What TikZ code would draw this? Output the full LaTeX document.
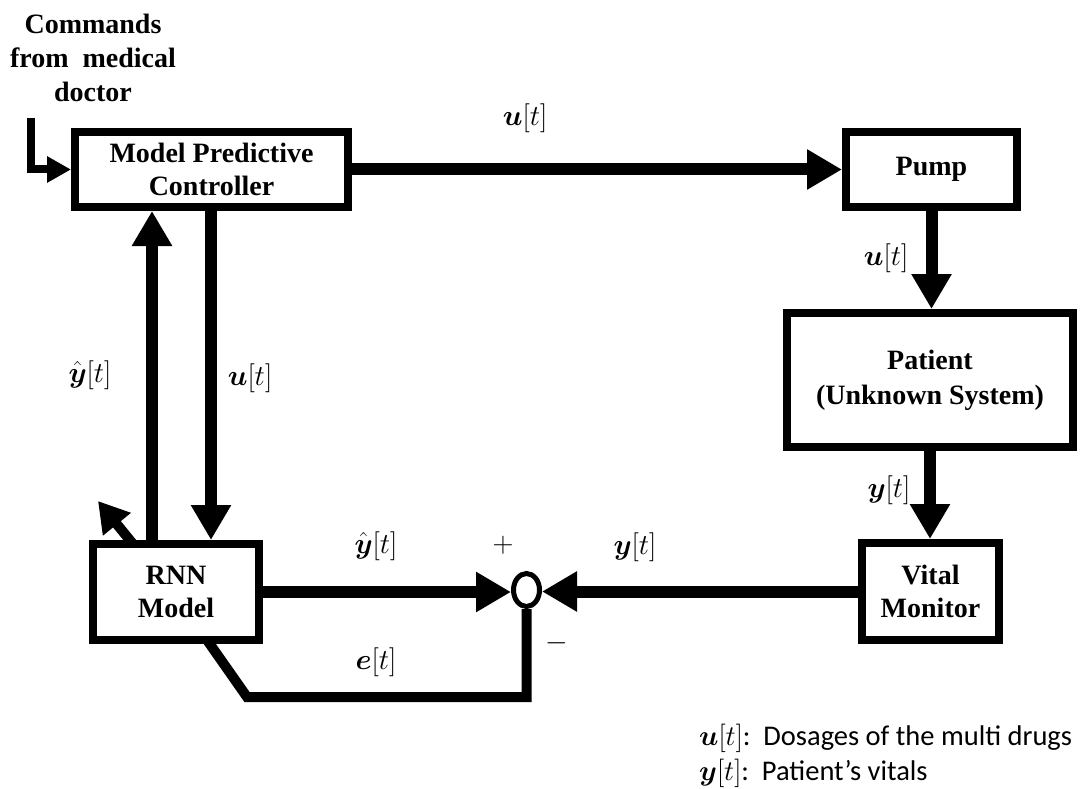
\RequirePackage{fix-cm}
\documentclass[tikz,border=0pt]{standalone}
\usepackage{amsmath}
\usepackage{fontspec}
\setmainfont{Liberation Serif}
\newfontfamily\legendfont{Carlito}
\usetikzlibrary{arrows.meta,shapes.geometric}

\begin{document}
\begin{tikzpicture}[x=1pt,y=-1pt,
  block/.style={draw, line width=8pt, inner sep=0pt, align=center,
    font=\fontsize{28}{33}\selectfont\bfseries},
  flow/.style={line width=12pt, -{Triangle[length=35pt,width=38pt]}},
  lbl/.style={font=\fontsize{29}{34}\selectfont, inner sep=0pt},
  legend/.style={anchor=base west, inner sep=0pt,
    font=\legendfont\fontsize{28.5}{33}\selectfont},
]
\useasboundingbox (0,0) rectangle (1080,789);

% blocks
\node[block, minimum width=273pt, minimum height=75pt] (mpc) at (211.5,169.5) {Model Predictive\\Controller};
\node[block, minimum width=171pt, minimum height=75pt] (pump) at (931.5,169.5) {Pump};
\node[block, minimum width=286pt, minimum height=134pt, font=\fontsize{28}{35}\selectfont\bfseries] (patient) at (930,380) {Patient\\(Unknown System)};
\node[block, minimum width=137pt, minimum height=97pt] (vital) at (930.5,591.5) {Vital\\Monitor};
\node[block, minimum width=166pt, minimum height=96pt] (rnn) at (176,592) {RNN\\Model};
\node[draw, ellipse, line width=5pt, minimum width=26pt, minimum height=33pt, inner sep=0pt] (sum) at (526.5,590) {};

% external command input
\node[font=\fontsize{28}{34}\selectfont\bfseries, align=center, inner sep=0pt] (cmd) at (93,58) {Commands\\from\ \ medical\\doctor};
\coordinate (cmdtop) at (30.5,118);
\draw[line width=8pt, -{Triangle[length=24pt,width=25pt]}] (cmdtop) |- (mpc.west);

% forward path
\draw[flow] (mpc.east) -- (mpc.east -| pump.west);
\draw[flow] (pump.south) -- (pump.south |- patient.north);
\draw[flow] (patient.south) -- (patient.south |- vital.north);
\draw[flow] (vital.west) -- (vital.west -| sum.east);
\draw[flow] (rnn.east) -- (rnn.east -| sum.west);

% links between controller and model
\coordinate (yhatx) at (152,0);
\coordinate (ux) at (211,0);
\draw[flow] (yhatx |- rnn.north) -- (yhatx |- mpc.south);
\draw[flow] (ux |- mpc.south) -- (ux |- rnn.north);

% error feedback to the model
\coordinate (fbcorner) at (247,697);
\coordinate (fbend) at (207,640);
\draw[line width=10pt] (sum.south) |- (fbcorner) -- (fbend);

% adaptation arrow
\coordinate (adapt) at (133,544);
\coordinate (adapttip) at (98,501);
\draw[line width=10pt, -{Triangle[length=30pt,width=34pt]}] (adapt) -- (adapttip);

% signal labels
\node[lbl] (uTop) at (525,118) {$\boldsymbol{u}[t]$};
\node[lbl] (uPump) at (886,258) {$\boldsymbol{u}[t]$};
\node[lbl] (yhatL) at (90,375) {$\hat{\boldsymbol{y}}[t]$};
\node[lbl] (uMid) at (250,378) {$\boldsymbol{u}[t]$};
\node[lbl] (yV) at (889,490) {$\boldsymbol{y}[t]$};
\node[lbl] (yhatB) at (376,546) {$\hat{\boldsymbol{y}}[t]$};
\node[lbl] (plus) at (503,545) {$+$};
\node[lbl] (yB) at (635,547) {$\boldsymbol{y}[t]$};
\node[lbl] (minus) at (557,643) {$-$};
\node[lbl] (eB) at (376,662) {$\boldsymbol{e}[t]$};

% legend
\node[legend] (legu) at (699,745) {$\boldsymbol{u}[t]$:\ \ Dosages of the multi drugs};
\node[legend] (legy) at (699,780) {$\boldsymbol{y}[t]$:\ \ Patient’s vitals};
\end{tikzpicture}
\end{document}
